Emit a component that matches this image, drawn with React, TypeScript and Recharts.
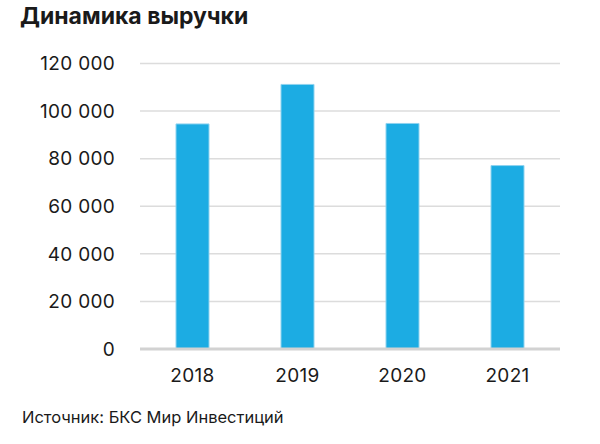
import React from "react";
import { BarChart, Bar, XAxis, YAxis, CartesianGrid } from "recharts";

const years = ["2018", "2019", "2020", "2021"];
const revenue = [94600, 111200, 94800, 77100];
const yTicks = [0, 20000, 40000, 60000, 80000, 100000, 120000];

const data = years.map((y, i) => ({ year: y, value: revenue[i] }));

const fmt = (v: number) => {
  const s = String(v);
  return s.replace(/\B(?=(\d{3})+(?!\d))/g, " ");
};

const FONT = "Inter, 'Noto Sans', sans-serif";

export default function App() {
  return (
    <div style={{ position: "absolute", left: 0, top: 0, width: 600, height: 444, background: "#fff", fontFamily: FONT }}>
      <div style={{ position: "absolute", left: 20, top: 2, fontSize: 23, fontWeight: 700, color: "#1a1a1a", whiteSpace: "nowrap" }}>
        Динамика выручки
      </div>
      <div style={{ position: "absolute", left: 22, top: 407, fontSize: 16.5, color: "#1a1a1a", whiteSpace: "nowrap" }}>
        Источник: БКС Мир Инвестиций
      </div>
      <div style={{ position: "absolute", left: 0, top: 0 }}>
        <BarChart width={600} height={444} data={data} margin={{ top: 63.5, right: 40, bottom: 60, left: 0 }}>
          <CartesianGrid vertical={false} stroke="#dcdcdc" strokeWidth={1.5} />
          <XAxis
            dataKey="year"
            tickLine={false}
            axisLine={{ stroke: "#d2d2d2", strokeWidth: 3 }}
            tickSize={0}
            tickMargin={20}
            height={35}
            tick={{ fill: "#1a1a1a", fontSize: 19, letterSpacing: 0.3, fontFamily: FONT }}
          />
          <YAxis
            domain={[0, 120000]}
            ticks={yTicks}
            interval={0}
            width={140}
            tickLine={false}
            axisLine={false}
            tickSize={0}
            tickMargin={25}
            tickFormatter={fmt}
            tick={{ fill: "#1a1a1a", fontSize: 19, letterSpacing: 0.3, fontFamily: FONT }}
          />
          <Bar dataKey="value" fill="#1cace3" stroke="#8fd3ef" strokeWidth={1} barSize={33} isAnimationActive={false} />
        </BarChart>
      </div>
    </div>
  );
}
